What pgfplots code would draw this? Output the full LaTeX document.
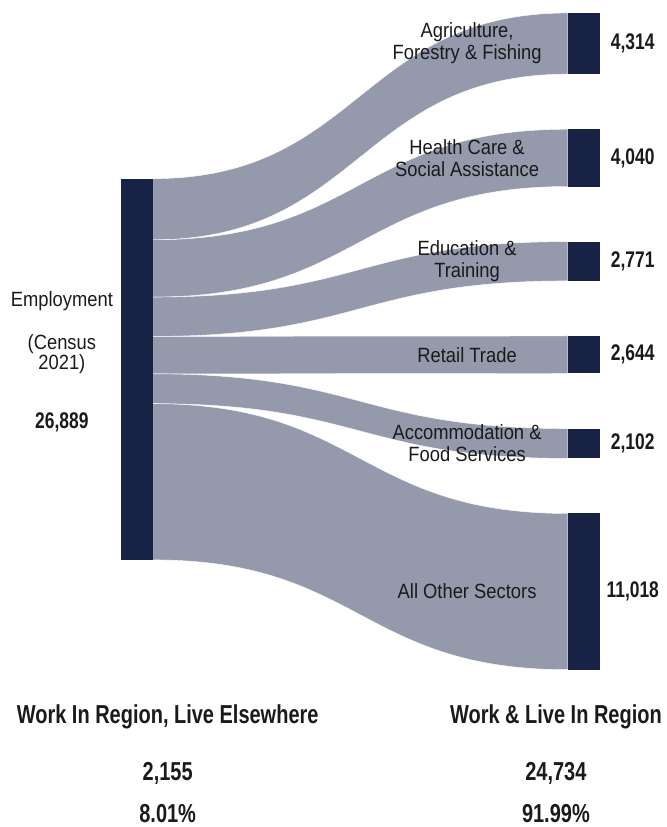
\documentclass[border=0pt]{standalone}
\usepackage{fontspec}
\setmainfont{Liberation Sans}[FakeStretch=0.89, BoldFeatures={FakeStretch=0.77}]
\usepackage{pgfplots}
\pgfplotsset{compat=1.18}
\definecolor{nodec}{HTML}{172245}
\definecolor{flowc}{HTML}{949AAC}
\definecolor{txt}{HTML}{1A1A1A}

\tikzset{
  lab/.style={align=center, text=txt, font=\fontsize{15.5}{16.5}\selectfont},
  num/.style={align=center, text=txt, font=\fontsize{17}{18}\selectfont\bfseries},
  big/.style={align=center, text=txt, font=\fontsize{19.5}{21}\selectfont\bfseries}}

% flow band: left top, left bottom, right top, right bottom (people, stacked)
\newcommand{\flow}[4]{%
  \fill[flowc,draw=white,line width=0.3pt] (axis cs:153,#1) .. controls (axis cs:361,#1) and (axis cs:361,#3) .. (axis cs:569,#3)
    -- (axis cs:569,#4) .. controls (axis cs:361,#4) and (axis cs:361,#2) .. (axis cs:153,#2) -- cycle;}

\begin{document}
\begin{tikzpicture}
\begin{axis}[
  width=498.75pt, height=620.25pt, scale only axis,
  xmin=0, xmax=665, ymin=-12600, ymax=45613, y dir=reverse,
  hide axis, clip=false]
\path (rel axis cs:0,0) rectangle (rel axis cs:1,1);

% flows (left stack 0..26889, right stack with gaps)
\flow{0}{4314}{-11685}{-7371}
\flow{4314}{8354}{-3485}{555}
\flow{8354}{11125}{4441}{7212}
\flow{11125}{13769}{11098}{13742}
\flow{13769}{15871}{17628}{19730}
\flow{15871}{26889}{23616}{34634}

% nodes
\addplot[fill=nodec,draw=none] coordinates {(121,0) (153,0) (153,26889) (121,26889)} -- cycle;
\addplot[fill=nodec,draw=none] coordinates {(569,-11685) (601,-11685) (601,-7371) (569,-7371)} -- cycle;
\addplot[fill=nodec,draw=none] coordinates {(569,-3485) (601,-3485) (601,555) (569,555)} -- cycle;
\addplot[fill=nodec,draw=none] coordinates {(569,4441) (601,4441) (601,7212) (569,7212)} -- cycle;
\addplot[fill=nodec,draw=none] coordinates {(569,11098) (601,11098) (601,13742) (569,13742)} -- cycle;
\addplot[fill=nodec,draw=none] coordinates {(569,17628) (601,17628) (601,19730) (569,19730)} -- cycle;
\addplot[fill=nodec,draw=none] coordinates {(569,23616) (601,23616) (601,34634) (569,34634)} -- cycle;

% flow labels
\node[lab] at (axis cs:468,-9528) {Agriculture,\\Forestry \& Fishing};
\node[lab] at (axis cs:468,-1465) {Health Care \&\\Social Assistance};
\node[lab] at (axis cs:468,5826) {Education \&\\Training};
\node[lab] at (axis cs:468,12420) {Retail Trade};
\node[lab] at (axis cs:468,18679) {Accommodation \&\\Food Services};
\node[lab] at (axis cs:468,29125) {All Other Sectors};

% values
\node[num] at (axis cs:634,-9528) {4,314};
\node[num] at (axis cs:634,-1465) {4,040};
\node[num] at (axis cs:634,5826) {2,771};
\node[num] at (axis cs:634,12420) {2,644};
\node[num] at (axis cs:634,18679) {2,102};
\node[num] at (axis cs:634,29125) {11,018};

% left node label
\node[lab] at (axis cs:62,8658) {Employment};
\node[lab,font=\fontsize{15.5}{15.5}\selectfont] at (axis cs:62,12389) {(Census\\2021)};
\node[num] at (axis cs:62,17175) {26,889};

% bottom summary
\node[big] at (axis cs:168,37940) {Work In Region, Live Elsewhere};
\node[big] at (axis cs:168,41952) {2,155};
\node[big] at (axis cs:168,44768) {8.01\%};
\node[big] at (axis cs:557,37940) {Work \& Live In Region};
\node[big] at (axis cs:557,41952) {24,734};
\node[big] at (axis cs:557,44768) {91.99\%};
\end{axis}
\end{tikzpicture}
\end{document}
